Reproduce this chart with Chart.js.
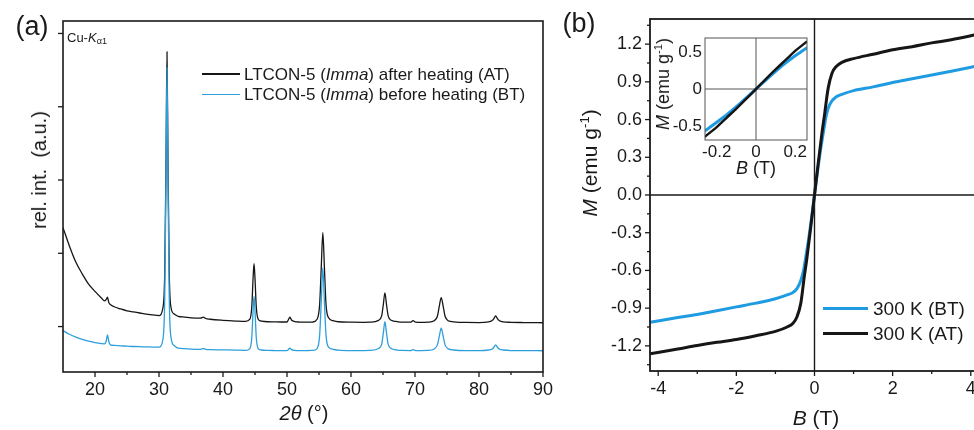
<!DOCTYPE html>
<html><head><meta charset="utf-8">
<script src="https://cdn.jsdelivr.net/npm/chart.js@4.4.1/dist/chart.umd.min.js"></script>
<style>
html,body{margin:0;padding:0;width:974px;height:430px;overflow:hidden;background:#fff;}
body{position:relative;font-family:"Liberation Sans",Arial,sans-serif;color:#1a1a1a;}
.cv{position:absolute;}
.t{position:absolute;white-space:nowrap;line-height:1;transform:translate(-50%,-50%);}
.l{position:absolute;white-space:nowrap;line-height:1;transform:translate(0,-50%);}
.r{transform:translate(-50%,-50%) rotate(-90deg);}
.sw{position:absolute;}
sup{font-size:0.62em;vertical-align:0.6em;line-height:0;}
sub{font-size:0.7em;vertical-align:-0.3em;line-height:0;}
</style>
</head><body>
<canvas id="cA" class="cv" width="560" height="430" style="left:0;top:0;"></canvas>
<canvas id="cB" class="cv" width="440" height="430" style="left:560px;top:0;"></canvas>
<canvas id="cI" class="cv" width="180" height="170" style="left:640px;top:20px;"></canvas>

<div class="t" style="left:32px;top:26px;font-size:27px;">(a)</div>
<div class="t" style="left:579px;top:23px;font-size:27px;">(b)</div>
<div class="l" style="left:67px;top:37px;font-size:13px;">Cu-<i>K</i><sub>α1</sub></div>

<div class="sw" id="swA1" style="left:202px;top:73px;width:38px;height:1.5px;"></div>
<div class="l" style="left:244px;top:74px;font-size:17px;">LTCON-5 (<i>Imma</i>) after heating (AT)</div>
<div class="sw" id="swA2" style="left:202px;top:93.5px;width:38px;height:1.5px;"></div>
<div class="l" style="left:244px;top:94px;font-size:17px;">LTCON-5 (<i>Imma</i>) before heating (BT)</div>

<div class="t r" style="left:39px;top:170px;font-size:20px;">rel. int.&nbsp; (a.u.)</div>
<div class="t" style="left:304px;top:413px;font-size:20px;"><i>2θ</i> (°)</div>

<div class="t r" style="left:589px;top:163px;font-size:21px;"><i>M</i> (emu g<sup>-1</sup>)</div>
<div class="t" style="left:816px;top:417px;font-size:21px;"><i>B</i> (T)</div>

<div class="t r" style="left:663px;top:84px;font-size:18px;"><i>M</i> (emu g<sup>-1</sup>)</div>
<div class="t" style="left:756px;top:168px;font-size:18px;"><i>B</i> (T)</div>

<div class="sw" id="swB1" style="left:823px;top:307px;width:45px;height:3px;"></div>
<div class="l" style="left:873px;top:308px;font-size:19px;">300 K (BT)</div>
<div class="sw" id="swB2" style="left:823px;top:332px;width:45px;height:3px;"></div>
<div class="l" style="left:873px;top:333px;font-size:19px;">300 K (AT)</div>

<script>
// ---------- panel (a): XRD ----------
const twoTheta = [
  15,16,17,18,19,20,21,21.5,21.75,21.95,
  22.15,22.4,23,24,25,26,27,28,29,30,
  30.6,30.9,31.1,31.25,31.4,31.6,31.9,32.4,33,34,
  35,36.5,36.9,37.3,38,40,42,43.5,44.2,44.5,
  44.7,44.85,45.0,45.2,45.5,46,47,48,49,50,
  50.2,50.45,50.7,51.2,52,53,54,54.7,55.1,55.35,
  55.6,55.85,56.1,56.5,57.2,58,60,62,63,64.3,
  64.8,65.05,65.3,65.55,65.8,66.3,67,68,69.3,69.7,
  70.1,71,72,73,73.5,73.8,74.1,74.4,74.7,75.2,
  76,78,80,81.5,82,82.3,82.6,82.9,83.2,83.8,
  85,87,90
];
const intensityAT = [
  2.35,2.10,1.88,1.72,1.58,1.48,1.39,1.35,1.37,1.40,
  1.33,1.30,1.27,1.24,1.215,1.20,1.185,1.17,1.16,1.15,
  1.25,1.75,3.30,4.75,3.30,1.75,1.25,1.17,1.14,1.13,
  1.12,1.115,1.13,1.11,1.10,1.085,1.075,1.07,1.10,1.27,
  1.66,1.86,1.66,1.27,1.10,1.075,1.066,1.064,1.062,1.062,
  1.09,1.13,1.09,1.068,1.062,1.060,1.062,1.10,1.30,1.80,
  2.28,1.80,1.30,1.12,1.08,1.066,1.060,1.058,1.060,1.085,
  1.15,1.30,1.46,1.30,1.15,1.085,1.07,1.06,1.06,1.08,
  1.06,1.056,1.06,1.08,1.14,1.28,1.396,1.28,1.14,1.08,
  1.065,1.056,1.055,1.064,1.08,1.105,1.146,1.105,1.08,1.064,
  1.058,1.055,1.052
];
const intensityBT = [
  0.945,0.895,0.855,0.825,0.800,0.780,0.767,0.765,0.800,0.887,
  0.800,0.750,0.742,0.737,0.733,0.728,0.725,0.723,0.720,0.720,
  0.820,1.400,3.100,4.530,3.100,1.400,0.840,0.740,0.705,0.698,
  0.693,0.690,0.700,0.690,0.686,0.682,0.678,0.676,0.700,0.850,
  1.220,1.410,1.220,0.850,0.700,0.680,0.675,0.673,0.672,0.672,
  0.685,0.705,0.685,0.675,0.672,0.672,0.675,0.700,0.880,1.330,
  1.800,1.330,0.880,0.720,0.690,0.678,0.672,0.672,0.674,0.700,
  0.760,0.910,1.068,0.910,0.760,0.700,0.682,0.674,0.673,0.685,
  0.673,0.672,0.674,0.695,0.750,0.870,0.978,0.870,0.750,0.695,
  0.680,0.672,0.672,0.680,0.690,0.715,0.750,0.715,0.690,0.680,
  0.673,0.672,0.670
];
const xTicksA = [20,30,40,50,60,70,80,90];
const xMinorA = [25,35,45,55,65,75,85];
const yTicksA = [1,2,3,4,5];

// ---------- panel (b): M(B) ----------
const fieldB = [-4.21,-3.5,-3,-2.5,-2,-1.5,-1,-0.7,-0.55,-0.45,-0.35,-0.28,-0.26,-0.2,-0.15,-0.1,-0.05,0,
                0.05,0.1,0.15,0.2,0.26,0.28,0.35,0.45,0.55,0.7,1,1.5,2,2.5,3,3.5,4.21];
const momentAT = [-1.263,-1.225,-1.197,-1.172,-1.15,-1.12,-1.085,-1.05,-1.02,-0.97,-0.86,-0.695,-0.645,-0.515,-0.39,-0.265,-0.135,0,
                  0.135,0.265,0.39,0.515,0.645,0.695,0.85,0.97,1.02,1.055,1.085,1.12,1.155,1.18,1.21,1.235,1.28];
const momentBT = [-1.013,-0.975,-0.95,-0.92,-0.89,-0.86,-0.825,-0.795,-0.775,-0.745,-0.68,-0.60,-0.565,-0.45,-0.35,-0.24,-0.12,0,
                  0.12,0.24,0.35,0.45,0.56,0.60,0.69,0.75,0.78,0.80,0.83,0.86,0.895,0.925,0.955,0.985,1.03];
const xTicksB = [-4,-2,0,2,4];
const xMinorB = [-3,-1,1,3];
const yTicksB = [-1.2,-0.9,-0.6,-0.3,0,0.3,0.6,0.9,1.2];
const yMinorB = [-1.35,-1.05,-0.75,-0.45,-0.15,0.15,0.45,0.75,1.05,1.35];
const xTicksInset = [-0.2,0,0.2];
const yTicksInset = [-0.5,0,0.5];

const FONT = '"Liberation Sans", Arial, sans-serif';
const INK = '#1a1a1a';
const BLACK = '#161616';
const BLUE_A = '#2c9fdc';
const BLUE_B = '#1f9be2';

document.getElementById('swA1').style.background = BLACK;
document.getElementById('swA2').style.background = BLUE_A;
document.getElementById('swB1').style.background = BLUE_B;
document.getElementById('swB2').style.background = BLACK;

function pts(xs, ys){ return xs.map((x,i)=>({x:x, y:ys[i]})); }

function decor(cfg){
  return {
    id:'decor',
    beforeDatasetsDraw(chart){
      if(!cfg.zero) return;
      const {ctx, chartArea:a, scales} = chart;
      ctx.save();
      ctx.strokeStyle = cfg.zero.color; ctx.lineWidth = cfg.zero.width;
      const x0 = scales.x.getPixelForValue(0), y0 = scales.y.getPixelForValue(0);
      ctx.beginPath();
      ctx.moveTo(x0,a.top); ctx.lineTo(x0,a.bottom);
      ctx.moveTo(a.left,y0); ctx.lineTo(a.right,y0);
      ctx.stroke();
      ctx.restore();
    },
    afterDraw(chart){
      const {ctx, chartArea:a, scales} = chart;
      ctx.save();
      ctx.strokeStyle = cfg.frame.color; ctx.lineWidth = cfg.frame.width;
      (cfg.ticks||[]).forEach(t=>{
        const sc = scales[t.axis];
        ctx.lineWidth = cfg.tickWidth || 1.3;
        t.values.forEach(v=>{
          const p = sc.getPixelForValue(v);
          ctx.beginPath();
          if(t.axis==='x'){ ctx.moveTo(p,a.bottom); ctx.lineTo(p,a.bottom+t.len); }
          else { ctx.moveTo(a.left,p); ctx.lineTo(a.left-t.len,p); }
          ctx.stroke();
        });
      });
      ctx.lineWidth = cfg.frame.width;
      ctx.strokeRect(a.left,a.top,a.right-a.left,a.bottom-a.top);
      ctx.restore();
    }
  };
}

function axis(min,max,ticks,fmt,fitProp,fitVal,pad,size,show){
  return {
    type:'linear', min:min, max:max,
    afterBuildTicks: s=>{ s.ticks = ticks.map(v=>({value:v})); },
    afterFit: s=>{ s[fitProp] = fitVal; },
    grid:{display:false, drawTicks:false},
    border:{display:false},
    ticks:{display:show, padding:pad, color:INK, font:{family:FONT,size:size},
           callback: fmt, maxRotation:0, autoSkip:false}
  };
}

const common = {responsive:false, animation:false, devicePixelRatio:1,
  plugins:{legend:{display:false}, tooltip:{enabled:false}},
  elements:{point:{radius:0}}};

// (a)
new Chart(document.getElementById('cA'), {
  type:'scatter',
  data:{datasets:[
    {label:'LTCON-5 (Imma) before heating (BT)', data:pts(twoTheta,intensityBT), borderColor:BLUE_A, borderWidth:1.3, showLine:true, pointRadius:0, cubicInterpolationMode:'monotone'},
    {label:'LTCON-5 (Imma) after heating (AT)', data:pts(twoTheta,intensityAT), borderColor:BLACK, borderWidth:1.3, showLine:true, pointRadius:0, cubicInterpolationMode:'monotone'}
  ]},
  options:Object.assign({}, common, {
    layout:{padding:{left:0,top:21,right:15,bottom:0}},
    scales:{
      x: axis(15,90,xTicksA,v=>String(v),'height',58,7,18,true),
      y: axis(0.38,5.17,yTicksA,v=>'','width',63,0,18,false)
    }
  }),
  plugins:[decor({frame:{color:INK,width:1.6}, tickWidth:1.3,
    ticks:[{axis:'x',values:xTicksA,len:5},{axis:'x',values:xMinorA,len:3},{axis:'y',values:yTicksA,len:5}]})]
});

// (b)
new Chart(document.getElementById('cB'), {
  type:'scatter',
  data:{datasets:[
    {label:'300 K (AT)', data:pts(fieldB,momentAT), borderColor:BLACK, borderWidth:3, showLine:true, pointRadius:0, cubicInterpolationMode:'monotone'},
    {label:'300 K (BT)', data:pts(fieldB,momentBT), borderColor:BLUE_B, borderWidth:3, showLine:true, pointRadius:0, cubicInterpolationMode:'monotone'}
  ]},
  options:Object.assign({}, common, {
    layout:{padding:{left:0,top:19,right:21,bottom:0}},
    scales:{
      x: axis(-4.21,4.21,xTicksB,v=>String(v),'height',59,7,18,true),
      y: axis(-1.4,1.4,yTicksB,v=>Number(v).toFixed(1),'width',90,8,18,true)
    }
  }),
  plugins:[decor({frame:{color:INK,width:1.8}, tickWidth:1.3, zero:{color:INK,width:1.4},
    ticks:[{axis:'x',values:xTicksB,len:5},{axis:'x',values:xMinorB,len:3},
           {axis:'y',values:yTicksB,len:5},{axis:'y',values:yMinorB,len:3}]})]
});

// inset
new Chart(document.getElementById('cI'), {
  type:'scatter',
  data:{datasets:[
    {label:'300 K (AT)', data:pts(fieldB,momentAT), borderColor:BLACK, borderWidth:2.5, showLine:true, pointRadius:0, cubicInterpolationMode:'monotone'},
    {label:'300 K (BT)', data:pts(fieldB,momentBT), borderColor:BLUE_B, borderWidth:3, showLine:true, pointRadius:0, cubicInterpolationMode:'monotone'}
  ]},
  options:Object.assign({}, common, {
    layout:{padding:{left:0,top:18,right:13,bottom:0}},
    scales:{
      x: axis(-0.26,0.26,xTicksInset,v=>String(v),'height',50,2,17,true),
      y: axis(-0.69,0.69,yTicksInset,v=>String(v),'width',65,3,17,true)
    }
  }),
  plugins:[decor({frame:{color:'#555',width:1}, zero:{color:'#555',width:1}, ticks:[]})]
});
</script>
</body></html>
